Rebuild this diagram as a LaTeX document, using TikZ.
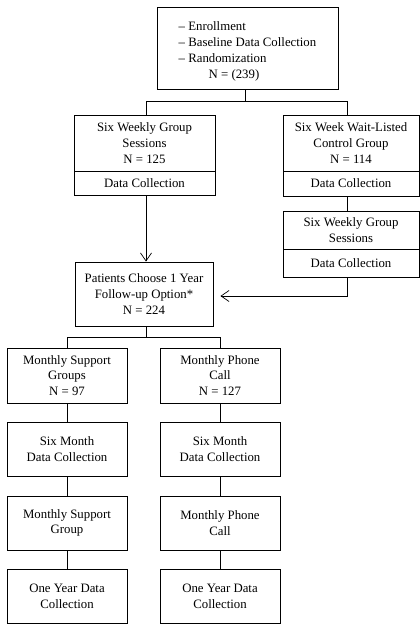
\documentclass[tikz,border=0pt]{standalone}
\usepackage{fontspec}
\setmainfont{Liberation Serif}
\usetikzlibrary{arrows.meta}
\begin{document}
\begin{tikzpicture}[x=1pt,y=-1pt,
  box/.style={draw, line width=0.9pt, inner sep=0pt, align=center, font=\fontsize{12.8}{15.8}\selectfont},
  txt/.style={inner sep=0pt, align=left, font=\fontsize{12.8}{15.8}\selectfont},
  conn/.style={line width=0.8pt},
  arr/.style={conn, -{Straight Barb[length=8pt,width=11pt,line width=0.7pt]}}]
\useasboundingbox (0,0) rectangle (420,626);
% top
\node[box, minimum width=181pt, minimum height=82pt] (top) at (247.5,48) {};
\node[txt, anchor=west] (toptext) at (178.5,51.5) {– Enrollment\\– Baseline Data Collection\\– Randomization\\\hspace*{30pt}N = (239)};
% left arm
\node[box, minimum width=141pt, minimum height=56pt] (lb1) at (144.5,143) {Six Weekly Group\\Sessions\\N = 125};
\node[box, minimum width=141pt, minimum height=24pt] (lb2) at (144.5,183) {Data Collection};
% right arm
\node[box, minimum width=136pt, minimum height=56pt] (rb1) at (351,143) {Six Week Wait-Listed\\Control Group\\N = 114};
\node[box, minimum width=136pt, minimum height=25pt] (rb2) at (351,183.5) {Data Collection};
\node[box, minimum width=136pt, minimum height=38pt] (rb3) at (351,230) {\raisebox{-2pt}{\parbox{130pt}{\centering Six Weekly Group\\Sessions}}};
\node[box, minimum width=136pt, minimum height=28pt] (rb4) at (351,263) {Data Collection};
% patients
\node[box, minimum width=138pt, minimum height=64pt] (pat) at (144,294) {Patients Choose 1 Year\\Follow-up Option*\\N = 224};
% lower columns
\node[box, minimum width=120pt, minimum height=55pt] (ms1) at (67,375.5) {Monthly Support\\Groups\\N = 97};
\node[box, minimum width=120pt, minimum height=55pt] (mp1) at (220,375.5) {Monthly Phone\\Call\\N = 127};
\node[box, minimum width=120pt, minimum height=54pt] (ms2) at (67,449) {Six Month\\Data Collection};
\node[box, minimum width=120pt, minimum height=54pt] (mp2) at (220,449) {Six Month\\Data Collection};
\node[box, minimum width=120pt, minimum height=54pt] (ms3) at (67,523) {Monthly Support\\Group};
\node[box, minimum width=120pt, minimum height=54pt] (mp3) at (220,523) {Monthly Phone\\Call};
\node[box, minimum width=120pt, minimum height=54pt] (ms4) at (67,596) {One Year Data\\Collection};
\node[box, minimum width=120pt, minimum height=54pt] (mp4) at (220,596) {One Year Data\\Collection};
% connectors
\draw[conn] ([xshift=-2.5pt]top.south) -- ++(0,12) coordinate (j1);
\draw[conn] ([xshift=1.5pt]lb1.north) |- (j1) -| ([xshift=-4pt]rb1.north);
\draw[conn] ([xshift=-4pt]rb2.south) -- ([xshift=-4pt]rb3.north);
\draw[arr] ([xshift=1.5pt]lb2.south) -- ([xshift=2pt]pat.north);
\draw[arr] ([xshift=-4pt]rb4.south) |- ([xshift=7pt,yshift=-2pt]pat.east);
\draw[conn] ([xshift=2pt]pat.south) -- ++(0,11) coordinate (j2);
\draw[conn] (ms1.north) |- (j2) -| (mp1.north);
\draw[conn] (ms1.south) -- (ms2.north);
\draw[conn] (ms2.south) -- (ms3.north);
\draw[conn] (ms3.south) -- (ms4.north);
\draw[conn] (mp1.south) -- (mp2.north);
\draw[conn] (mp2.south) -- (mp3.north);
\draw[conn] (mp3.south) -- (mp4.north);
\end{tikzpicture}
\end{document}
